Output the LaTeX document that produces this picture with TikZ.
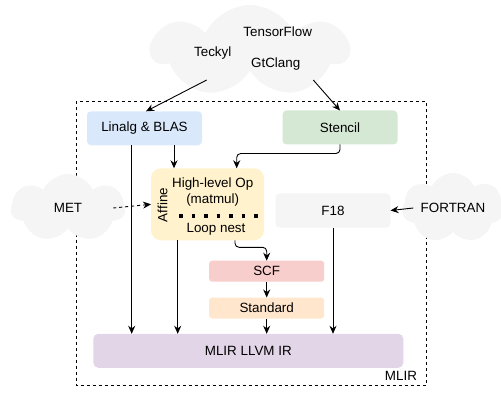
\documentclass[tikz,border=0pt]{standalone}
\usepackage{fontspec}
\setmainfont{Liberation Sans}
\usetikzlibrary{positioning,shapes.symbols,arrows.meta}
\definecolor{cldgray}{HTML}{F5F5F5}
\definecolor{linalgc}{HTML}{DAE8FC}
\definecolor{stencilc}{HTML}{D5E8D4}
\definecolor{affinec}{HTML}{FFF2CC}
\definecolor{scfc}{HTML}{F8CECC}
\definecolor{stdc}{HTML}{FFE6CC}
\definecolor{llvmc}{HTML}{E1D5E7}

\begin{document}
\begin{tikzpicture}
[x=1pt,y=-1pt,
 every node/.style={font=\fontsize{13.4}{15}\selectfont,inner sep=0pt,outer sep=0pt},
 cld/.style={cloud,cloud puffs=7,cloud puff arc=130,cloud ignores aspect,fill=cldgray},
 blk/.style={rectangle,rounded corners=4pt,minimum width=115pt,minimum height=34pt},
 sblk/.style={rectangle,rounded corners=3pt,minimum width=115pt,minimum height=21pt},
 >={Stealth[length=8pt,width=7pt]},
 line width=0.9pt]
\useasboundingbox (0,0) rectangle (501,393);

% MLIR frame
\draw[dash pattern=on 3pt off 3pt] (76,101.5) rectangle (426,385);
\node (mlir) at (401,376) {MLIR};

% clouds
\node[cld,minimum width=196pt,minimum height=92pt] (front) at (250,51) {};
\node (tf)  at (277.7,31.7) {TensorFlow};
\node (tky) at (212.7,53.3) {Teckyl};
\node (gtc) at (275.7,64.3) {GtClang};
\node[cld,minimum width=114pt,minimum height=68pt] (met) at (68,208) {MET};
\node[cld,minimum width=102pt,minimum height=70pt] (fortran) at (453,208) {FORTRAN};

% dialects
\node[blk,fill=linalgc]  (linalg)  at (144.5,128.3) {Linalg \& BLAS};
\node[blk,fill=stencilc] (stencil) at (340,127.5)   {Stencil};
\node[blk,fill=cldgray]  (f18)     at (333,210.5)   {F18};
\node[rectangle,rounded corners=10pt,fill=affinec,minimum width=113pt,minimum height=72pt] (affine) at (207.5,204.3) {};
\node[rotate=90] (afftxt) at (162.7,205) {Affine};
\node (hlop)  at (212.7,184.3) {High-level Op};
\node (mmul)  at (212.7,200)   {(matmul)};
\node (loop)  at (216,229.3)   {Loop nest};
\draw[line width=3.5pt,dash pattern=on 3.5pt off 9pt] (179,216) -- (258,216);
\node[sblk,fill=scfc] (scf) at (266.7,271.2) {SCF};
\node[sblk,fill=stdc] (std) [on grid,below=36.8pt of scf] {Standard};
\node[rectangle,rounded corners=5pt,fill=llvmc,minimum width=310pt,minimum height=34pt] (llvm) at (248.3,350.8) {MLIR LLVM IR};

% connectors
\coordinate (frontL) at (206.7,80);
\coordinate (frontR) at (313.3,80);
\path[->] (frontL) edge (146,0 |- linalg.north);
\path[->] (frontR) edge (stencil.north);
\path[->] (174,0 |- linalg.south) edge (174,0 |- affine.north);
\draw[->,rounded corners=4pt] (stencil.south) -- ++(0,9) -| (236.7,0 |- affine.north);
\draw[->,dashed] ([xshift=-12pt]met.east) -- (affine.west);
\draw[->] ([xshift=11pt]fortran.west) -- (f18.east);
\draw[->,rounded corners=4pt] (235,0 |- affine.south) -- ++(0,7) -| (scf.north);
\path[->] (scf) edge (std);
\path[->] (std) edge (std |- llvm.north);
\path[->] (131.7,0 |- linalg.south) edge (131.7,0 |- llvm.north);
\path[->] (177.7,0 |- affine.south) edge (177.7,0 |- llvm.north);
\path[->] (f18) edge (333,0 |- llvm.north);
\end{tikzpicture}
\end{document}
